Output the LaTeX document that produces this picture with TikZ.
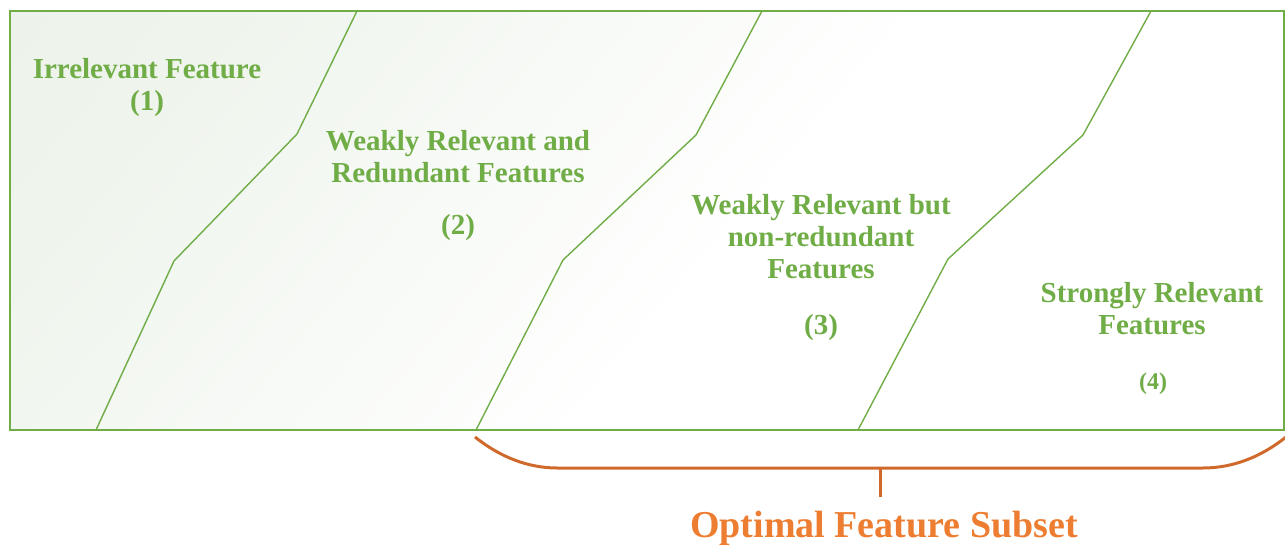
\documentclass[tikz,border=0pt]{standalone}
\usepackage{fontspec}
\setmainfont{Liberation Serif}
\definecolor{leafgreen}{HTML}{70AD47}
\definecolor{bracebrown}{HTML}{D06A2C}
\definecolor{titleorange}{HTML}{ED7D31}
\definecolor{mintwash}{HTML}{EAF1E7}
\pgfdeclarehorizontalshading{washfade}{100bp}{
  color(0bp)=(mintwash); color(25bp)=(mintwash!75!white);
  color(55bp)=(white); color(100bp)=(white)}
\tikzset{
  region/.style={draw=leafgreen, line width=1.4bp, line join=round},
  frame/.style={draw=leafgreen, line width=2bp},
  label/.style={text=leafgreen, font=\bfseries\fontsize{29bp}{32bp}\selectfont, align=center, inner sep=0pt},
  bracket/.style={draw=bracebrown, line width=3bp},
  subset/.style={text=titleorange, font=\bfseries\fontsize{38bp}{42bp}\selectfont, inner sep=0pt}
}
\begin{document}
\begin{tikzpicture}[x=1bp, y=-1bp]
\useasboundingbox (0,0) rectangle (1285,546);
% shaded background panel, greenest in the upper left corner
\shade[shading=washfade, shading angle=-40] (10,11) rectangle (1284,430);

% region boundaries
\coordinate (a0) at (357,11);  \coordinate (a1) at (297,134);
\coordinate (a2) at (174,261); \coordinate (a3) at (96,430);
\coordinate (b0) at (762,11);  \coordinate (b1) at (696,135);
\coordinate (b2) at (563,260); \coordinate (b3) at (476,430);
\coordinate (c0) at (1151,11); \coordinate (c1) at (1083,135);
\coordinate (c2) at (948,259); \coordinate (c3) at (858,430);
\draw[region] (a0) -- (a1) -- (a2) -- (a3);
\draw[region] (b0) -- (b1) -- (b2) -- (b3);
\draw[region] (c0) -- (c1) -- (c2) -- (c3);
\draw[frame] (10,11) rectangle (1284,430);

% region labels
\node[label] (t1) at (147,88) {Irrelevant Feature\\(1)};
\node[label] (t2) at (458,157) {Weakly Relevant and\\Redundant Features};
\node[label] (n2) at (458,228) {(2)};
\node[label] (t3) at (821,237) {Weakly Relevant but\\non-redundant\\Features};
\node[label] (n3) at (821,328) {(3)};
\node[label] (t4) at (1152,309) {Strongly Relevant\\Features};
\node[label, font=\bfseries\fontsize{24bp}{28bp}\selectfont] (n4) at (1153,384) {(4)};

% bracket over regions 3 and 4
\coordinate (bl) at (475,437);
\coordinate (bm1) at (557,468);
\coordinate (bm2) at (1203,468);
\coordinate (br) at (1286,437);
\coordinate (stemtop) at (880,468);
\coordinate (stembot) at (880,497);
\draw[bracket] (bl) .. controls (500,457) and (528,468) .. (bm1) -- (bm2)
  .. controls (1233,468) and (1261,457) .. (br);
\draw[bracket] (stemtop) -- (stembot);
\node[subset] (opt) at (884,528) {Optimal Feature Subset};
\end{tikzpicture}
\end{document}
